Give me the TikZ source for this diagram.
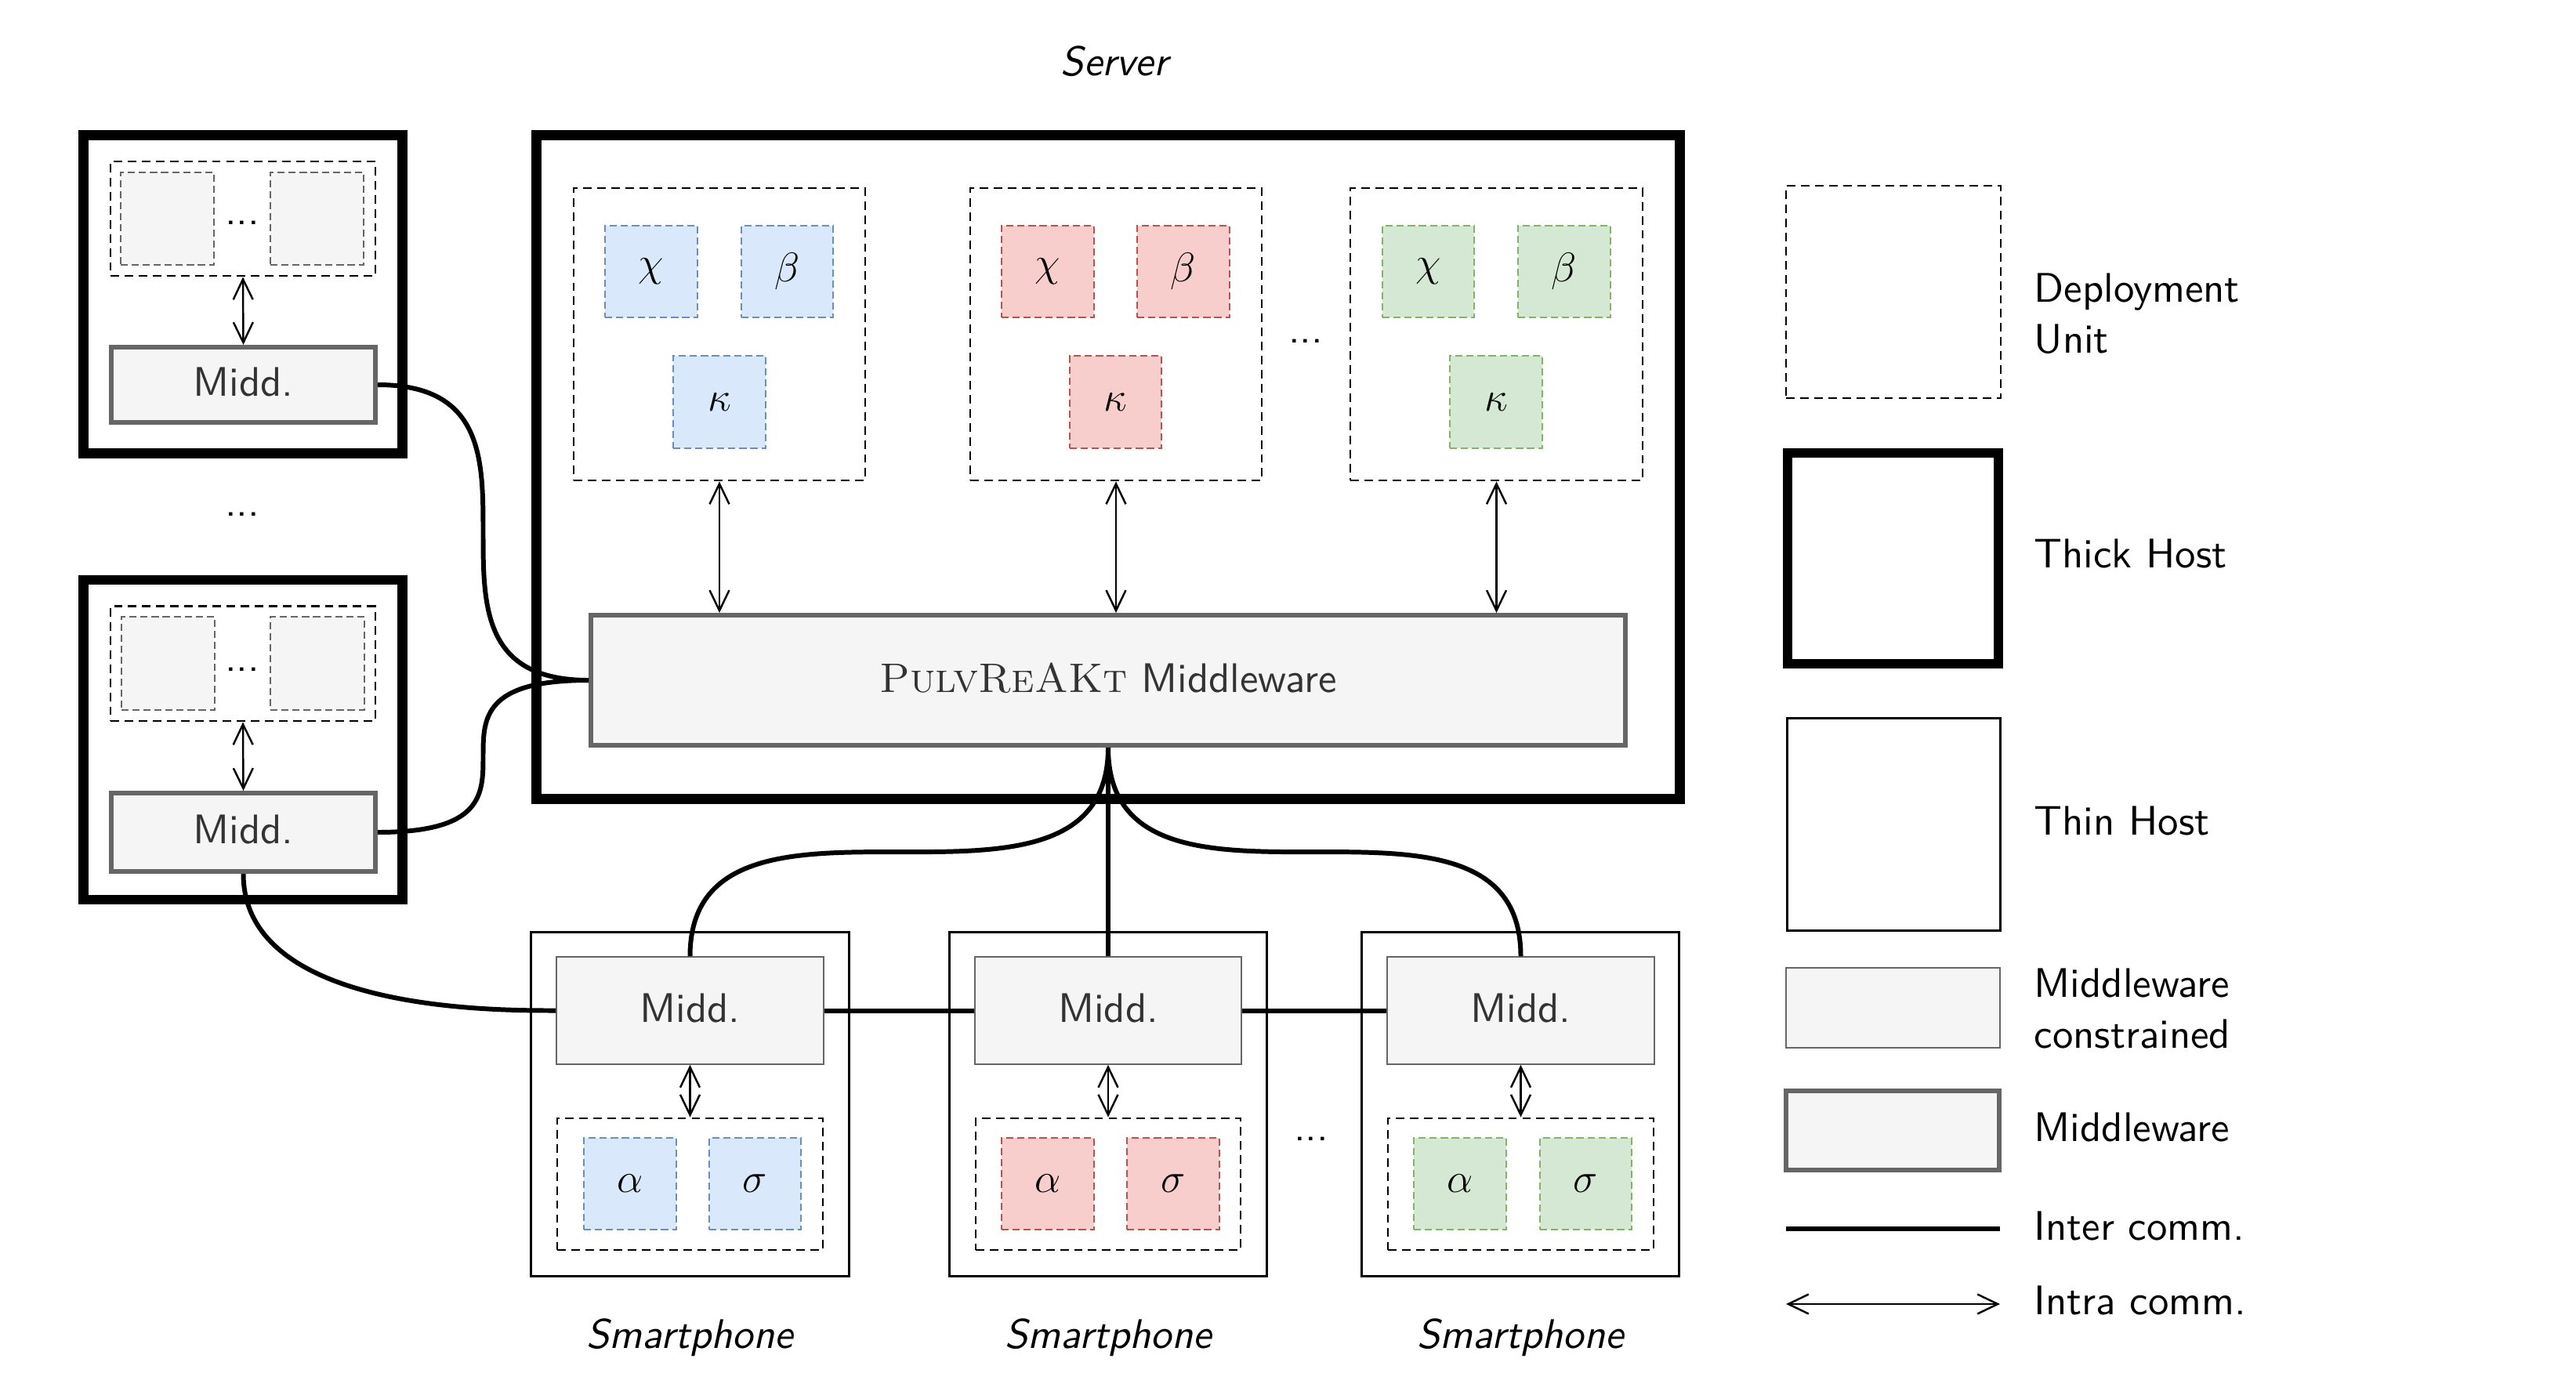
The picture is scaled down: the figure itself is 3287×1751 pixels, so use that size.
\RequirePackage{fix-cm}
\documentclass[tikz,border=0pt]{standalone}
\usepackage{fontspec}
\setsansfont{lmsans10-regular.otf}[ItalicFont=lmsans10-oblique.otf]
\usetikzlibrary{arrows.meta}
\definecolor{blueF}{HTML}{DAE8FC}\definecolor{blueD}{HTML}{6C8EBF}
\definecolor{redF}{HTML}{F8CECC}\definecolor{redD}{HTML}{B85450}
\definecolor{greenF}{HTML}{D5E8D4}\definecolor{greenD}{HTML}{82B366}
\definecolor{grayF}{HTML}{F5F5F5}\definecolor{grayD}{HTML}{666666}
\definecolor{txt}{HTML}{333333}
\newcommand{\mkbox}[7]{\node[#2, minimum width={(#5-#3)*0.01cm}, minimum height={(#6-#4)*0.01cm}] (#1) at ({(#3+#5)/2},{(#4+#6)/2}) {#7};}
\tikzset{
  thickhost/.style={draw, line width=3.6pt, inner sep=0pt},
  thinhost/.style={draw, line width=0.85pt, inner sep=0pt},
  du/.style={draw, line width=0.8pt, dash pattern=on 3.1pt off 2pt, inner sep=0pt},
  comp/.style={line width=0.75pt, dash pattern=on 2.6pt off 1.4pt, inner sep=0pt},
  bluec/.style={comp, draw=blueD, fill=blueF},
  redc/.style={comp, draw=redD, fill=redF},
  greenc/.style={comp, draw=greenD, fill=greenF},
  grayc/.style={comp, draw=grayD, fill=grayF},
  mid/.style={draw=grayD, fill=grayF, line width=1.7pt, text=txt, text depth=0.2em, inner sep=0pt},
  midc/.style={draw=grayD, fill=grayF, line width=0.45pt, text=txt, text depth=0.2em, inner sep=0pt},
  inter/.style={line width=1.7pt},
  intra/.style={line width=0.7pt, >={Straight Barb[length=2.6mm,width=2.5mm]}, <->},
  lbl/.style={anchor=base, inner sep=0pt, font=\sffamily\itshape\fontsize{15}{18.5}\selectfont},
  dots/.style={anchor=base, inner sep=0pt},
  lgtext/.style={anchor=west, align=left, inner sep=0pt},
}
\begin{document}
\begin{tikzpicture}[x=0.01cm, y=-0.01cm, font=\sffamily\fontsize{15}{18.5}\selectfont]
\fill[white] (0,0) rectangle (3287,1751);
\useasboundingbox (0,0) rectangle (3287,1751);

% ---------- Thick host 1 ----------
\mkbox{th1}{thickhost}{106.5}{172.5}{513.5}{578.5}{}
\mkbox{th1du}{du}{141}{206}{479}{352}{}
\mkbox{th1a}{grayc}{154}{220}{273}{338}{}
\mkbox{th1b}{grayc}{345}{220}{464}{338}{}
\node[dots] (th1dots) at (309,286.5) {...};
\mkbox{th1m}{mid}{142}{443}{479}{539}{Midd.}
\draw[intra] (th1du.south) -- (th1m.north);

\node[dots] (hdots) at (309,658.5) {...};

% ---------- Thick host 2 ----------
\mkbox{th2}{thickhost}{106.5}{740}{513.5}{1148}{}
\mkbox{th2du}{du}{141}{773.5}{479}{920}{}
\mkbox{th2a}{grayc}{155}{787}{274}{906}{}
\mkbox{th2b}{grayc}{345}{787}{465}{906}{}
\node[dots] (th2dots) at (309,856.5) {...};
\mkbox{th2m}{mid}{142}{1012}{479}{1112}{Midd.}
\draw[intra] (th2du.south) -- (th2m.north);

% ---------- Server ----------
\node[lbl] (srvlbl) at (1422,96) {Server};
\mkbox{srv}{thickhost}{684.5}{172.5}{2143.5}{1019.5}{}
\mkbox{du1}{du}{732}{240}{1104}{613}{}
\mkbox{du2}{du}{1238}{240}{1610}{613}{}
\mkbox{du3}{du}{1723}{240}{2096}{613}{}
\mkbox{c1a}{bluec}{772}{288}{890}{405}{$\chi$}
\mkbox{c1b}{bluec}{946}{288}{1063}{405}{$\beta$}
\mkbox{c1c}{bluec}{859}{454}{977}{572}{$\kappa$}
\mkbox{c2a}{redc}{1278}{288}{1396}{405}{$\chi$}
\mkbox{c2b}{redc}{1451}{288}{1569}{405}{$\beta$}
\mkbox{c2c}{redc}{1365}{454}{1482}{572}{$\kappa$}
\mkbox{c3a}{greenc}{1764}{288}{1881}{405}{$\chi$}
\mkbox{c3b}{greenc}{1937}{288}{2055}{405}{$\beta$}
\mkbox{c3c}{greenc}{1850}{454}{1968}{572}{$\kappa$}
\node[dots] (srvdots) at (1666,437.5) {...};
\mkbox{mw}{mid}{754}{785}{2074}{951}{{\rmfamily\textsc{PulvReAKt}} Middleware}
\draw[intra] (du1.south) -- (du1.south |- mw.north);
\draw[intra] (du2.south) -- (du2.south |- mw.north);
\draw[intra] (du3.south) -- (du3.south |- mw.north);

% ---------- Smartphones ----------
\mkbox{ph1}{thinhost}{677.5}{1189}{1083.5}{1628.5}{}
\mkbox{ph2}{thinhost}{1211.5}{1189}{1616.5}{1628.5}{}
\mkbox{ph3}{thinhost}{1737.5}{1189}{2142.5}{1628.5}{}
\mkbox{p1m}{midc}{710}{1221}{1051}{1358}{Midd.}
\mkbox{p2m}{midc}{1244}{1221}{1584}{1358}{Midd.}
\mkbox{p3m}{midc}{1770}{1221}{2111}{1358}{Midd.}
\mkbox{p1du}{du}{711}{1427}{1050}{1595}{}
\mkbox{p2du}{du}{1245}{1427}{1583}{1595}{}
\mkbox{p3du}{du}{1771}{1427}{2110}{1595}{}
\mkbox{p1a}{bluec}{745}{1452}{863}{1569}{$\alpha$}
\mkbox{p1b}{bluec}{905}{1452}{1022}{1569}{$\sigma$}
\mkbox{p2a}{redc}{1278}{1452}{1396}{1569}{$\alpha$}
\mkbox{p2b}{redc}{1438}{1452}{1556}{1569}{$\sigma$}
\mkbox{p3a}{greenc}{1804}{1452}{1922}{1569}{$\alpha$}
\mkbox{p3b}{greenc}{1965}{1452}{2082}{1569}{$\sigma$}
\draw[intra] (p1m.south) -- (p1du.north);
\draw[intra] (p2m.south) -- (p2du.north);
\draw[intra] (p3m.south) -- (p3du.north);
\node[dots] (phdots) at (1673,1455.5) {...};
\node[lbl] (ph1lbl) at (880,1720) {Smartphone};
\node[lbl] (ph2lbl) at (1414,1720) {Smartphone};
\node[lbl] (ph3lbl) at (1940,1720) {Smartphone};

% ---------- Inter communication ----------
\draw[inter] (th1m.east) .. controls +(269,0) and +(-269,0) .. (mw.west);
\draw[inter] (th2m.east) .. controls +(269,0) and +(-269,0) .. (mw.west);
\draw[inter] (th2m.south) .. controls +(0,175) and +(-80,0) .. (p1m.west);
\draw[inter] (mw.south) .. controls +(0,267) and +(0,-267) .. (p1m.north);
\draw[inter] (mw.south) -- (p2m.north);
\draw[inter] (mw.south) .. controls +(0,267) and +(0,-267) .. (p3m.north);
\draw[inter] (p1m.east) -- (p2m.west);
\draw[inter] (p2m.east) -- (p3m.west);

% ---------- Legend ----------
\mkbox{lgdu}{du}{2279}{237}{2553}{508}{}
\mkbox{lgthick}{thickhost}{2281}{578}{2550}{847}{}
\mkbox{lgthin}{thinhost}{2280}{916}{2552}{1187}{}
\mkbox{lgmidc}{midc}{2279}{1235}{2552}{1337}{}
\mkbox{lgmid}{mid}{2279}{1392}{2551}{1493}{}
\coordinate (lgi1) at (2279,1568);
\coordinate (lgi2) at (2552,1568);
\draw[inter] (lgi1) -- (lgi2);
\coordinate (lga1) at (2279,1664);
\coordinate (lga2) at (2552,1664);
\draw[intra] (lga1) -- (lga2);
\node[lgtext] (t1) at (2595,400.7) {Deployment\\Unit};
\node[lgtext, anchor=base west] (t2) at (2595,724) {Thick Host};
\node[lgtext, anchor=base west] (t3) at (2595,1065) {Thin Host};
\node[lgtext] (t4) at (2595,1286.7) {Middleware\\constrained};
\node[lgtext, anchor=base west] (t5) at (2595,1456) {Middleware};
\node[lgtext, anchor=base west] (t6) at (2595,1582) {Inter comm.};
\node[lgtext, anchor=base west] (t7) at (2595,1677) {Intra comm.};
\end{tikzpicture}
\end{document}
